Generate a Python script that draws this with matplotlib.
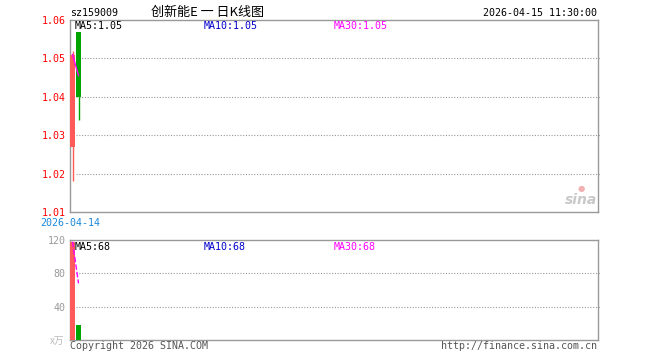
import matplotlib
matplotlib.use('Agg')
import matplotlib.pyplot as plt

# dados do gráfico K diário
dates = ['2026-04-14', '2026-04-15']
opens = [1.027, 1.057]
closes = [1.051, 1.040]
highs = [1.052, 1.057]
lows = [1.018, 1.034]
ma5_price = [1.051, 1.0455]
volumes = [118, 18]
ma5_vol = [118, 68]

price_ticks = [1.01, 1.02, 1.03, 1.04, 1.05, 1.06]
vol_ticks = [40, 80, 120]

RED = '#ff5a5a'
GREEN = '#00a400'
MAG = '#ff00ff'
BLUE = '#0000cc'
GRAY = '#999999'
MONO = 'DejaVu Sans Mono'
CJK = ['Noto Sans CJK SC', 'DejaVu Sans']
FS = 7.2

W, H = 660, 360
fig = plt.figure(figsize=(6.6, 3.6), dpi=100)


def px(x, y):
    return x / W, 1 - y / H


def box(left, top, right, bottom):
    return [left / W, 1 - bottom / H, (right - left) / W, (bottom - top) / H]


ax = fig.add_axes(box(70, 20, 598, 212))
axv = fig.add_axes(box(70, 240, 598, 340))

xs = list(range(len(dates)))
colors = [RED if c >= o else GREEN for o, c in zip(opens, closes)]

for a in (ax, axv):
    a.set_xlim(-0.42, 528 / 6 - 0.42)
    a.set_xticks([])
    for s in a.spines.values():
        s.set_color(GRAY)
        s.set_linewidth(1)
    a.tick_params(axis='y', length=0, pad=3, labelsize=FS)

# candles
for x, o, c, h, l, col in zip(xs, opens, closes, highs, lows, colors):
    ax.vlines(x, l, h, color=col, lw=1, zorder=3)
    ax.bar(x, abs(c - o), bottom=min(o, c), width=0.8, color=col, zorder=3)
ax.plot(xs, ma5_price, color=MAG, lw=1, zorder=4)
ax.set_ylim(1.01, 1.06)
ax.set_yticks(price_ticks)
ax.set_yticklabels(['%.2f' % t for t in price_ticks], family=MONO, color='red')
for t in price_ticks[1:-1]:
    ax.axhline(t, xmin=6 / 528, xmax=1.004, color=GRAY, lw=0.8, ls=(0, (1, 1.5)),
               clip_on=False, zorder=1)

# volume
axv.bar(xs, volumes, width=0.8, color=colors, zorder=3)
axv.plot(xs, ma5_vol, color=MAG, lw=1, ls=(0, (4, 1.5)), zorder=4)
axv.set_ylim(0, 120)
axv.set_yticks(vol_ticks)
axv.set_yticklabels([str(t) for t in vol_ticks], family=MONO, color=GRAY)
for t in vol_ticks[:-1]:
    axv.axhline(t, xmin=6 / 528, xmax=1.004, color=GRAY, lw=0.8, ls=(0, (1, 1.5)),
                clip_on=False, zorder=1)

# textos
fig.text(*px(70, 13), 'sz159009', family=MONO, fontsize=FS, va='center')
fig.text(*px(151, 12.5), '创新能E 一 日K线图', family=CJK, fontsize=9.4, va='center')
fig.text(*px(597, 13), '2026-04-15 11:30:00', family=MONO, fontsize=FS,
         va='center', ha='right')

fig.text(*px(75, 26), 'MA5:%.2f' % ma5_price[-1], family=MONO, fontsize=FS,
         va='center')
fig.text(*px(204, 26), 'MA10:1.05', family=MONO, fontsize=FS, va='center', color=BLUE)
fig.text(*px(334, 26), 'MA30:1.05', family=MONO, fontsize=FS, va='center', color=MAG)

fig.text(*px(75, 246.5), 'MA5:%d' % ma5_vol[-1], family=MONO, fontsize=FS,
         va='center')
fig.text(*px(204, 246.5), 'MA10:68', family=MONO, fontsize=FS, va='center', color=BLUE)
fig.text(*px(334, 246.5), 'MA30:68', family=MONO, fontsize=FS, va='center', color=MAG)

fig.text(*px(70, 223), dates[0], family=MONO, fontsize=FS, va='center',
         ha='center', color='#1a88d8')
fig.text(*px(64, 341), 'x万', family=CJK, fontsize=7, va='center', ha='right',
         color='#bbbbbb')
fig.text(*px(70, 346), 'Copyright 2026 SINA.COM', family=MONO, fontsize=FS,
         va='center', color='#555555')
fig.text(*px(597, 346), 'http://finance.sina.com.cn', family=MONO, fontsize=FS,
         va='center', ha='right', color='#555555')

# logo sina (aproximado)
fig.text(*px(597, 200), 'sina', fontsize=10, style='italic', weight='bold',
         ha='right', va='center', color='#c8c8c8')
fig.text(*px(581, 189), '●', fontsize=6, ha='center', va='center', color='#f3b0b0')

fig.savefig('out.png', dpi=100)
